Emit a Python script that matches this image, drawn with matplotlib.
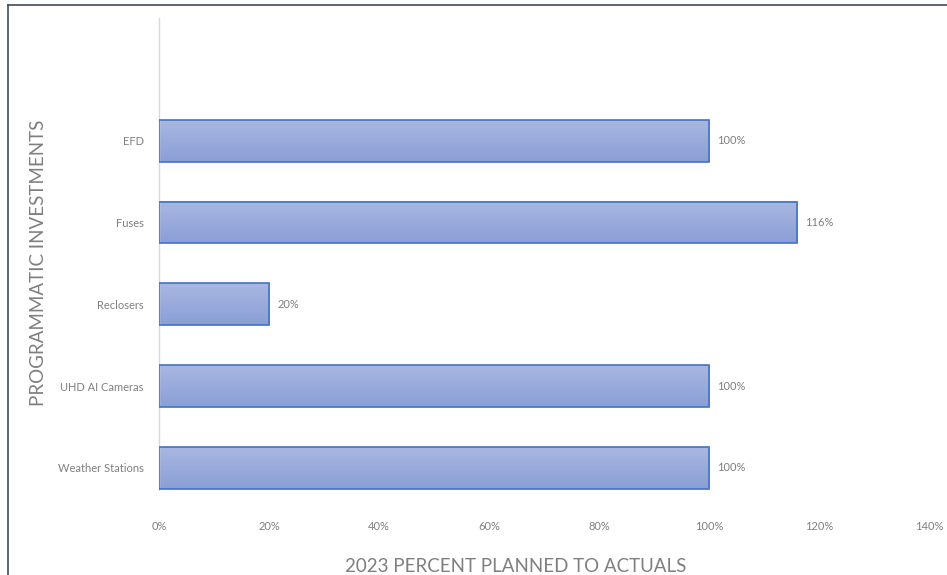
import matplotlib.pyplot as plt
import numpy as np
from matplotlib.lines import Line2D
from matplotlib.colors import LinearSegmentedColormap

categories = ["Weather Stations", "UHD AI Cameras", "Reclosers", "Fuses", "EFD"]
percent = [100, 100, 20, 116, 100]
x_ticks = [0, 20, 40, 60, 80, 100, 120, 140]

plt.rcParams['font.family'] = ['Lato', 'DejaVu Sans']

W, H = 947, 575
fig = plt.figure(figsize=(W / 100, H / 100), dpi=100)
ax = fig.add_axes([159 / W, 1 - 490 / H, (929 - 159) / W, (490 - 18) / H])

grey = '#7f7f7f'
bar_h = 0.51
ypos = np.arange(len(categories))

# gradient fill, lighter at the top of each bar
grad = np.linspace(0, 1, 64).reshape(-1, 1)
cmap = LinearSegmentedColormap.from_list('barfill', ['#a9b7e0', '#8a9fd7'])
for y, v in zip(ypos, percent):
    ax.imshow(grad, extent=(0, v, y - bar_h / 2, y + bar_h / 2), origin='upper',
              cmap=cmap, aspect='auto', zorder=2, interpolation='bilinear')

ax.barh(ypos, percent, height=bar_h, facecolor='none', edgecolor='#4472c4',
        linewidth=1.2, zorder=3)

for y, v in zip(ypos, percent):
    ax.text(v + 1.5, y, f"{v}%", va='center', ha='left', fontsize=8, color=grey)

ax.set_xlim(0, 140)
ax.set_ylim(-0.27, 5.5)
ax.set_xticks(x_ticks)
ax.set_xticklabels([f"{t}%" for t in x_ticks])
ax.set_yticks(ypos)
ax.set_yticklabels(categories)
ax.tick_params(axis='both', length=0, labelsize=8, labelcolor=grey)
ax.tick_params(axis='x', pad=22)
ax.tick_params(axis='y', pad=11)

for s in ['top', 'right', 'bottom']:
    ax.spines[s].set_visible(False)
ax.spines['left'].set_color('#d9d9d9')
ax.spines['left'].set_linewidth(1)

# axis titles placed in figure pixels
fig.text(516 / W, 1 - 566 / H, "2023 PERCENT PLANNED TO ACTUALS", fontsize=13.5,
         color=grey, ha='center', va='center')
fig.text(38 / W, 1 - 263 / H, "PROGRAMMATIC INVESTMENTS", fontsize=13.5,
         color=grey, ha='center', va='center', rotation=90)

# outer chart frame
frame_c = '#3f4c5c'
fig.add_artist(Line2D([8 / W, 8 / W], [0, 1 - 5 / H], color=frame_c, lw=1.2,
                      transform=fig.transFigure))
fig.add_artist(Line2D([8 / W, 1], [1 - 5 / H, 1 - 5 / H], color=frame_c, lw=1.2,
                      transform=fig.transFigure))

fig.savefig('out.png', dpi=100)
